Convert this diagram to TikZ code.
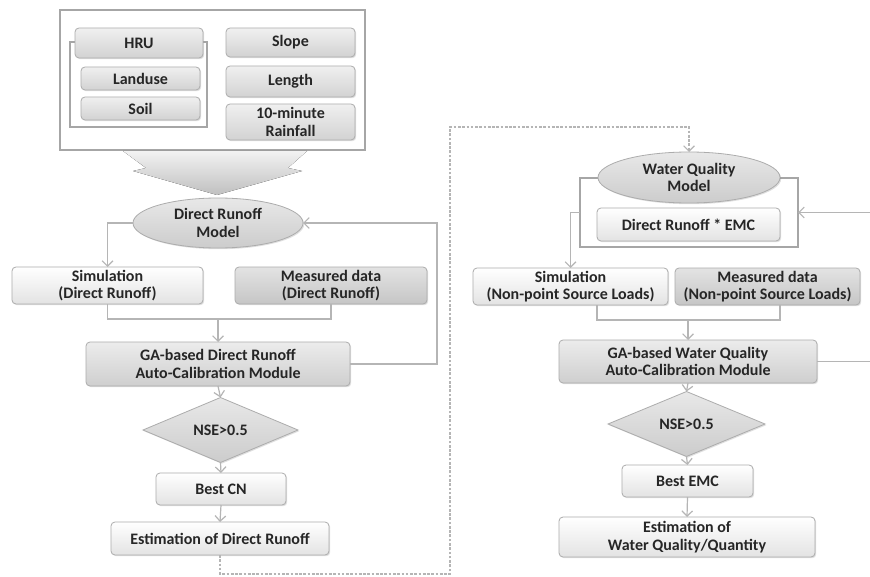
\documentclass[tikz,border=0pt]{standalone}
\usepackage{fontspec}
\setmainfont{Carlito}
\usetikzlibrary{shapes.geometric,shadows,arrows.meta}
\tikzset{
  base/.style={font=\bfseries\fontsize{12}{13.2}\selectfont, text=black!85, align=center, inner sep=0pt, outer sep=0pt,
    draw=gray!65, line width=0.6pt, drop shadow={opacity=0.25, shadow xshift=0.9pt, shadow yshift=-0.9pt}},
  lbox/.style={base, rectangle, rounded corners=3pt, top color=white, bottom color=gray!22},
  dbox/.style={base, rectangle, rounded corners=3pt, top color=gray!22, bottom color=gray!45},
  gbox/.style={base, rectangle, rounded corners=3pt, top color=gray!15, bottom color=gray!38},
  tbox/.style={base, rectangle, rounded corners=3pt, top color=gray!12, bottom color=gray!35},
  ell/.style={base, ellipse, top color=gray!18, bottom color=gray!40},
  dia/.style={base, diamond, top color=gray!18, bottom color=gray!40},
  frame/.style={rectangle, draw=gray!70, line width=1pt, inner sep=0pt, outer sep=0pt, fill=white},
  line/.style={draw=gray!58, line width=0.9pt},
  arr/.style={line, -{Straight Barb[length=4pt,width=8pt]}},
  dline/.style={dash pattern=on 2pt off 1.2pt},
}
\newcommand\mybx[7]{\node[#6, minimum width={(#4-#2)*0.75pt}, minimum height={(#5-#3)*0.75pt}] (#1) at ({(#2+#4)/2},{(#3+#5)/2}) {#7};}
\begin{document}
\begin{tikzpicture}[x=0.75pt,y=-0.75pt]
\useasboundingbox[fill=white] (0,0) rectangle (870,577);
% top input block
\mybx{top}{60}{10}{365}{150}{frame}{}
\mybx{hrug}{70}{42}{207}{127}{frame}{}
\mybx{hru}{75}{28}{203}{58}{tbox}{HRU}
\mybx{land}{81}{67}{200}{90}{tbox}{Landuse}
\mybx{soil}{81}{97}{200}{120}{tbox}{Soil}
\mybx{slope}{226}{28}{355}{57}{tbox}{Slope}
\mybx{len}{226}{66}{355}{97}{tbox}{Length}
\mybx{rain}{226}{104}{355}{140}{tbox}{10-minute\\Rainfall}
% funnel arrow
\fill[top color=gray!10, bottom color=gray!50] (123,151) -- (307,151) -- (288,168) -- (302,171) -- (217,195) -- (133,171) -- (146,168) -- cycle;
% left chain
\mybx{dro}{133}{198}{303}{248}{ell}{Direct Runoff\\Model}
\mybx{sim}{12}{267}{203}{304}{lbox}{Simulation\\(Direct Runoff)}
\mybx{meas}{235}{267}{427}{304}{dbox}{Measured data\\(Direct Runoff)}
\mybx{ga}{86}{342}{350}{386}{gbox}{GA-based Direct Runoff\\Auto-Calibration Module}
\mybx{nse}{143}{408}{298}{452}{dia}{NSE>0.5}
\mybx{bcn}{156}{473}{286}{505}{lbox}{Best CN}
\mybx{est}{111}{522}{329}{555}{lbox}{Estimation of Direct Runoff}
% right chain
\mybx{wqf}{580}{178}{798}{247}{frame}{}
\mybx{wq}{598}{152}{780}{203}{ell}{Water Quality\\Model}
\mybx{emc}{597}{208}{780}{241}{lbox}{Direct Runoff * EMC}
\mybx{wsim}{473}{268}{668}{305}{lbox}{Simulation\\(Non-point Source Loads)}
\mybx{wmeas}{675}{268}{860}{305}{dbox}{Measured data\\(Non-point Source Loads)}
\mybx{wga}{559}{340}{817}{383}{gbox}{GA-based Water Quality\\Auto-Calibration Module}
\mybx{wnse}{608}{403}{765}{445}{dia}{NSE>0.5}
\mybx{bemc}{622}{465}{753}{497}{lbox}{Best EMC}
\mybx{wes}{559}{517}{815}{557}{lbox}{Estimation of\\Water Quality/Quantity}
% left connectors
\draw[arr] (dro.west) -| (sim.north);
\coordinate (m1) at (218,319);
\draw[line] (sim.south) |- (m1) -| (meas.south);
\draw[arr] (m1) -- (ga.north);
\coordinate (fb) at (437,300);
\draw[arr] (ga.east) -| (fb) |- (dro.east);
\draw[arr] (ga.south) -- (nse.north);
\draw[arr] (nse.south) -- (bcn.north);
\draw[arr] (bcn.south) -- (est.north);
% dashed link
\coordinate (d1) at (450,574);
\coordinate (d2) at (450,127);
\draw[arr, dline] (est.south) |- (d1) -- (d2) -| (wq.north);
% right connectors
\draw[arr] (wqf.west) -| (wsim.north);
\coordinate (r1) at (870,212.5);
\draw[arr] (r1) -- (wqf.east);
\coordinate (m2l) at (597,320);
\coordinate (m2r) at (780,320);
\coordinate (m2) at (688,320);
\draw[line] (wsim.south -| m2l) -- (m2l) -- (m2r) -- (wmeas.south -| m2r);
\draw[arr] (m2) -- (wga.north);
\coordinate (r2) at (870,362);
\draw[line] (wga.east) -- (wga.east -| r2);
\draw[arr] (wga.south) -- (wnse.north);
\draw[arr] (wnse.south) -- (bemc.north);
\draw[arr] (bemc.south) -- (wes.north);
\end{tikzpicture}
\end{document}
